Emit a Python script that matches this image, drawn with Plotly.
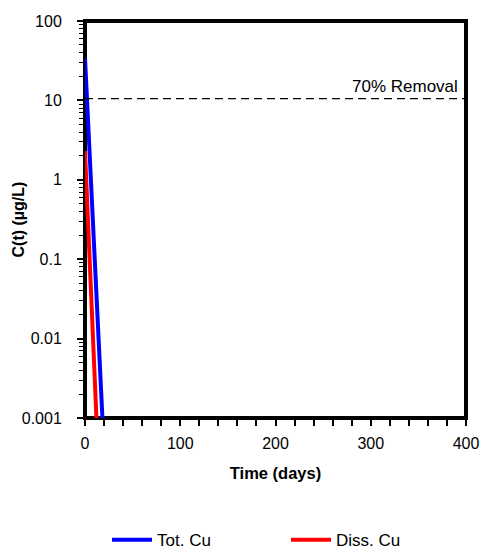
import math
import plotly.graph_objects as go

# Data
tot_days = [0, 4, 8, 12, 16, 18.3]
tot_cu = [34, 3.4, 0.35, 0.036, 0.0037, 0.001]
diss_days = [0, 3, 6, 9, 12]
diss_cu = [2.3, 0.35, 0.052, 0.0075, 0.001]
removal_level = 10.5
removal_label = "70% Removal"
x_ticks = [0, 100, 200, 300, 400]
y_ticks = [0.001, 0.01, 0.1, 1, 10, 100]
y_tick_labels = ["0.001", "0.01", "0.1", "1", "10", "100"]
y_title = "<b>C(t) (µg/L)</b>"
x_title = "<b>Time (days)</b>"

font = "Liberation Sans"

fig = go.Figure()
fig.add_trace(go.Scatter(x=tot_days, y=tot_cu, mode="lines", name="Tot. Cu",
                         line=dict(color="#0000FF", width=4)))
fig.add_trace(go.Scatter(x=diss_days, y=diss_cu, mode="lines", name="Diss. Cu",
                         line=dict(color="#FF0000", width=4)))
fig.add_trace(go.Scatter(x=[0, 400], y=[removal_level, removal_level], mode="lines",
                         showlegend=False, line=dict(color="black", width=1.2, dash="8px,5px")))

fig.add_annotation(x=1, xref="paper", xanchor="right", xshift=-6,
                   y=math.log10(removal_level), yref="y", yanchor="bottom", yshift=1,
                   text=removal_label, showarrow=False,
                   font=dict(family=font, size=17, color="black"))

# y-axis title as a rotated annotation
fig.add_annotation(x=0, xref="paper", xanchor="center", xshift=-67,
                   y=0.5, yref="paper", yanchor="middle",
                   text=y_title, textangle=-90, showarrow=False,
                   font=dict(family=font, size=16, color="black"))

# plot frame centred on the plot-area edges
fig.add_shape(type="rect", xref="paper", yref="paper", x0=0, x1=1, y0=0, y1=1,
              line=dict(color="black", width=4), layer="below")

fig.update_layout(
    width=482, height=551,
    margin=dict(l=85, r=16, t=21, b=133, autoexpand=False),
    plot_bgcolor="white", paper_bgcolor="white",
    font=dict(family=font, size=16, color="black"),
    showlegend=True,
    legend=dict(orientation="h", xref="container", x=0.222, xanchor="left",
                yref="paper", y=-0.308, yanchor="middle",
                font=dict(family=font, size=17, color="black"),
                entrywidth=124, entrywidthmode="pixels", itemwidth=40),
    xaxis=dict(range=[0, 400], tickvals=x_ticks, ticks="outside", ticklen=7,
               tickwidth=1.5, tickcolor="black", automargin=False,
               showline=False, showgrid=False, zeroline=False,
               ticklabelstandoff=4,
               minor=dict(dtick=20, ticks="outside", ticklen=7, tickwidth=1.5, tickcolor="black", showgrid=False),
               title=dict(text=x_title, font=dict(family=font, size=16.5), standoff=16)),
    yaxis=dict(type="log", range=[-3, 2], tickvals=y_ticks, ticktext=y_tick_labels,
               ticks="outside", ticklen=7, tickwidth=1.5, tickcolor="black", automargin=False,
               showline=False, showgrid=False, zeroline=False,
               ticklabelstandoff=12,
               minor=dict(dtick="D1", ticks="outside", ticklen=5, tickwidth=1, tickcolor="black", showgrid=False)),
)

fig.write_html("out.html", config={"displayModeBar": False},
               post_script="document.body.style.margin='0px';")
